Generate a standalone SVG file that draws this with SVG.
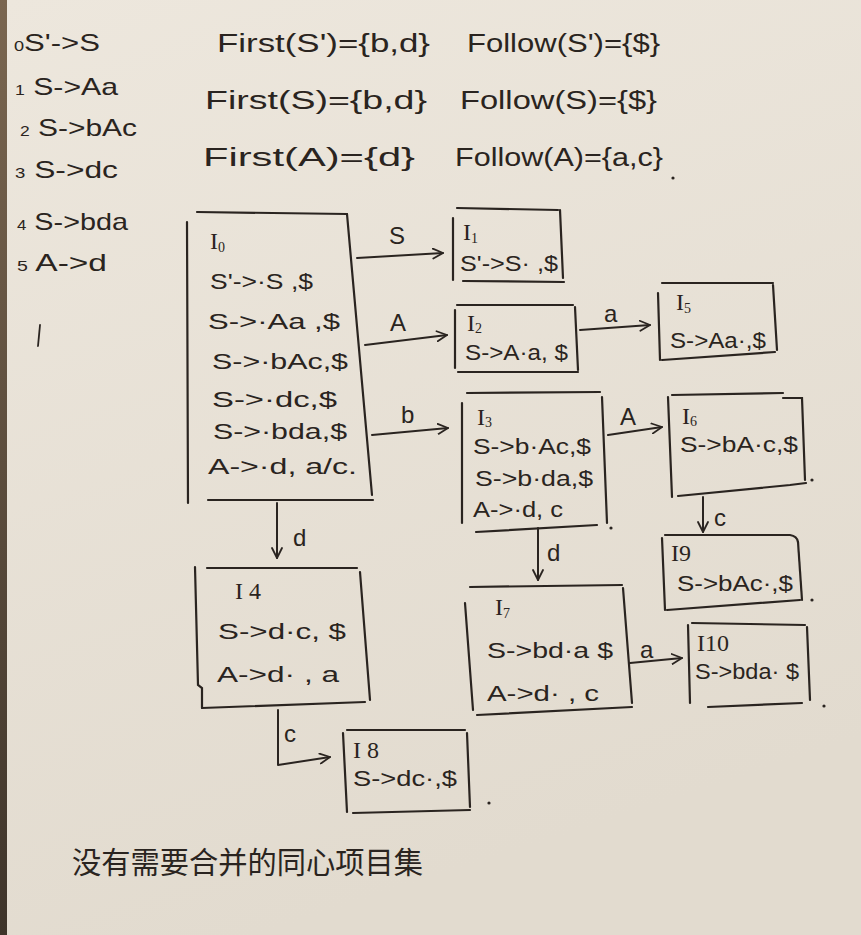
<svg xmlns="http://www.w3.org/2000/svg" width="861" height="935" viewBox="0 0 861 935">
<defs>
<linearGradient id="paper" x1="0" y1="0" x2="0.3" y2="1">
<stop offset="0" stop-color="#ede7dd"/>
<stop offset="1" stop-color="#e2dbcf"/>
</linearGradient>
<linearGradient id="edge" x1="0" y1="0" x2="0" y2="1">
<stop offset="0" stop-color="#7a6650"/>
<stop offset="1" stop-color="#3e342a"/>
</linearGradient>
<marker id="ah" viewBox="0 0 12 12" refX="11" refY="6" markerWidth="12" markerHeight="12" markerUnits="userSpaceOnUse" orient="auto">
<path d="M1,1 L11,6 L1,11" fill="none" stroke="#2a2420" stroke-width="1.8" stroke-linecap="round" stroke-linejoin="round"/>
</marker>
<style>
text{font-family:"Liberation Sans","Noto Sans CJK SC",sans-serif;fill:#2a2420;}
.hd{font-size:26px;}
.gr{font-size:24px;}
.it{font-size:22px;}
.lb{font-size:24px;}
.sub{font-size:14px;}
.nm{font-family:"Liberation Serif",serif;font-size:24px;}
.box path{fill:none;stroke:#2a2420;stroke-width:2.2;stroke-linecap:round;}
.edge path{fill:none;stroke:#2a2420;stroke-width:2;stroke-linecap:round;stroke-linejoin:round;marker-end:url(#ah);}
.dot{fill:#2a2420;}
</style>
</defs>
<rect x="0" y="0" width="861" height="935" fill="url(#paper)"/>
<rect x="0" y="0" width="7" height="935" fill="url(#edge)"/>

<g id="grammar">
<text class="gr" x="14" y="51" textLength="86" lengthAdjust="spacingAndGlyphs"><tspan class="sub">0</tspan>S'-&gt;S</text>
<text class="gr" x="15" y="95" textLength="103" lengthAdjust="spacingAndGlyphs"><tspan class="sub">1</tspan> S-&gt;Aa</text>
<text class="gr" x="20" y="136" textLength="117" lengthAdjust="spacingAndGlyphs"><tspan class="sub">2</tspan> S-&gt;bAc</text>
<text class="gr" x="15" y="178" textLength="103" lengthAdjust="spacingAndGlyphs"><tspan class="sub">3</tspan> S-&gt;dc</text>
<text class="gr" x="17" y="230" textLength="111" lengthAdjust="spacingAndGlyphs"><tspan class="sub">4</tspan> S-&gt;bda</text>
<text class="gr" x="17" y="271" textLength="90" lengthAdjust="spacingAndGlyphs"><tspan class="sub">5</tspan> A-&gt;d</text>
<path d="M40,325 L38,346" fill="none" stroke="#2a2420" stroke-width="1.8" stroke-linecap="round"/>
</g>

<g id="sets">
<text class="hd" x="217" y="52" textLength="213" lengthAdjust="spacingAndGlyphs">First(S')={b,d}</text>
<text class="hd" x="467" y="52" textLength="193" lengthAdjust="spacingAndGlyphs">Follow(S')={$}</text>
<text class="hd" x="205" y="109" textLength="222" lengthAdjust="spacingAndGlyphs">First(S)={b,d}</text>
<text class="hd" x="460" y="109" textLength="197" lengthAdjust="spacingAndGlyphs">Follow(S)={$}</text>
<text class="hd" x="203" y="166" textLength="212" lengthAdjust="spacingAndGlyphs">First(A)={d}</text>
<text class="hd" x="455" y="166" textLength="208" lengthAdjust="spacingAndGlyphs">Follow(A)={a,c}</text>
<circle class="dot" cx="673" cy="178" r="1.6"/>
</g>

<g id="I0" class="box">
<path d="M197,212 L347,214"/>
<path d="M347,214 L372,495"/>
<path d="M208,500 L373,500"/>
<path d="M187,222 L188,503"/>
<text class="nm" x="210" y="249">I<tspan class="sub" dy="3">0</tspan></text>
<text class="it" x="210" y="289" textLength="103" lengthAdjust="spacingAndGlyphs">S'-&gt;·S ,$</text>
<text class="it" x="208" y="329" textLength="132" lengthAdjust="spacingAndGlyphs">S-&gt;·Aa ,$</text>
<text class="it" x="212" y="369" textLength="136" lengthAdjust="spacingAndGlyphs">S-&gt;·bAc,$</text>
<text class="it" x="212" y="407" textLength="125" lengthAdjust="spacingAndGlyphs">S-&gt;·dc,$</text>
<text class="it" x="213" y="439" textLength="134" lengthAdjust="spacingAndGlyphs">S-&gt;·bda,$</text>
<text class="it" x="208" y="474" textLength="149" lengthAdjust="spacingAndGlyphs">A-&gt;·d, a/c.</text>
</g>

<g id="I1" class="box">
<path d="M457,208 L558,210"/>
<path d="M560,210 L563,278"/>
<path d="M463,281 L564,282"/>
<path d="M453,218 L453,280"/>
<text class="nm" x="463" y="240">I<tspan class="sub" dy="3">1</tspan></text>
<text class="it" x="460" y="271" textLength="98" lengthAdjust="spacingAndGlyphs">S'-&gt;S· ,$</text>
</g>

<g id="I2" class="box">
<path d="M457,305 L573,305"/>
<path d="M575,307 L578,370"/>
<path d="M458,372 L578,372"/>
<path d="M455,310 L455,368"/>
<text class="nm" x="467" y="331">I<tspan class="sub" dy="2">2</tspan></text>
<text class="it" x="465" y="360" textLength="103" lengthAdjust="spacingAndGlyphs">S-&gt;A·a, $</text>
</g>

<g id="I3" class="box">
<path d="M467,393 L600,392"/>
<path d="M602,397 L607,523"/>
<path d="M476,532 L597,525"/>
<path d="M462,403 L462,523"/>
<text class="nm" x="477" y="425">I<tspan class="sub" dy="2">3</tspan></text>
<text class="it" x="473" y="454" textLength="118" lengthAdjust="spacingAndGlyphs">S-&gt;b·Ac,$</text>
<text class="it" x="475" y="486" textLength="118" lengthAdjust="spacingAndGlyphs">S-&gt;b·da,$</text>
<text class="it" x="473" y="517" textLength="90" lengthAdjust="spacingAndGlyphs">A-&gt;·d, c</text>
<circle class="dot" cx="611" cy="528" r="1.6"/>
</g>

<g id="I4" class="box">
<path d="M207,568 L357,568"/>
<path d="M360,572 L370,700"/>
<path d="M202,708 L365,702"/>
<path d="M195,567 L198,685 L202,688 L202,708"/>
<text class="nm" x="235" y="599">I 4</text>
<text class="it" x="218" y="639" textLength="128" lengthAdjust="spacingAndGlyphs">S-&gt;d·c, $</text>
<text class="it" x="217" y="682" textLength="122" lengthAdjust="spacingAndGlyphs">A-&gt;d· , a</text>
</g>

<g id="I5" class="box">
<path d="M662,283 L773,283"/>
<path d="M773,285 L777,350"/>
<path d="M662,360 L775,352"/>
<path d="M658,293 L660,360"/>
<text class="nm" x="676" y="310">I<tspan class="sub" dy="3">5</tspan></text>
<text class="it" x="670" y="348" textLength="96" lengthAdjust="spacingAndGlyphs">S-&gt;Aa·,$</text>
</g>

<g id="I6" class="box">
<path d="M672,395 L783,393"/>
<path d="M783,398 L802,398 L805,480"/>
<path d="M678,496 L790,485 L806,483"/>
<path d="M668,397 L672,497"/>
<text class="nm" x="682" y="424">I<tspan class="sub" dy="2">6</tspan></text>
<text class="it" x="680" y="452" textLength="118" lengthAdjust="spacingAndGlyphs">S-&gt;bA·c,$</text>
<circle class="dot" cx="812" cy="480" r="1.6"/>
</g>

<g id="I7" class="box">
<path d="M470,587 L622,585"/>
<path d="M623,588 L632,703"/>
<path d="M477,715 L632,707"/>
<path d="M465,603 L473,710"/>
<text class="nm" x="495" y="615">I<tspan class="sub" dy="3">7</tspan></text>
<text class="it" x="487" y="658" textLength="126" lengthAdjust="spacingAndGlyphs">S-&gt;bd·a $</text>
<text class="it" x="487" y="701" textLength="112" lengthAdjust="spacingAndGlyphs">A-&gt;d· , c</text>
</g>

<g id="I8" class="box">
<path d="M347,730 L465,730"/>
<path d="M467,733 L470,807"/>
<path d="M353,813 L470,810"/>
<path d="M343,733 L347,812"/>
<text class="nm" x="353" y="758">I 8</text>
<text class="it" x="353" y="786" textLength="104" lengthAdjust="spacingAndGlyphs">S-&gt;dc·,$</text>
<circle class="dot" cx="489" cy="803" r="1.6"/>
</g>

<g id="I9" class="box">
<path d="M665,535 L790,535 Q797,536 798,542"/>
<path d="M798,542 L802,600"/>
<path d="M667,610 L800,600"/>
<path d="M662,538 L665,610"/>
<text class="nm" x="671" y="561">I9</text>
<text class="it" x="677" y="591" textLength="116" lengthAdjust="spacingAndGlyphs">S-&gt;bAc·,$</text>
<circle class="dot" cx="812" cy="600" r="1.6"/>
</g>

<g id="I10" class="box">
<path d="M692,623 L805,625"/>
<path d="M807,627 L810,700"/>
<path d="M708,707 L802,703"/>
<path d="M688,625 L690,703"/>
<text class="nm" x="697" y="651">I10</text>
<text class="it" x="695" y="679" textLength="104" lengthAdjust="spacingAndGlyphs">S-&gt;bda· $</text>
<circle class="dot" cx="824" cy="706" r="1.6"/>
</g>

<g id="connectors" class="edge">
<path d="M357,258 L443,253"/>
<path d="M365,345 L447,335"/>
<path d="M372,435 L448,428"/>
<path d="M580,330 L650,325"/>
<path d="M608,435 L662,427"/>
<path d="M703,497 L703,532"/>
<path d="M630,663 L682,658"/>
<path d="M277,503 L277,558"/>
<path d="M278,710 L278,765 L330,757"/>
<path d="M538,528 L538,580"/>
<text class="lb" x="389" y="244">S</text>
<text class="lb" x="390" y="331">A</text>
<text class="lb" x="401" y="423">b</text>
<text class="lb" x="604" y="322">a</text>
<text class="lb" x="620" y="425">A</text>
<text class="lb" x="714" y="526">c</text>
<text class="lb" x="640" y="658">a</text>
<text class="lb" x="293" y="546">d</text>
<text class="lb" x="284" y="742">c</text>
<text class="lb" x="547" y="561">d</text>
</g>

<g id="note">
<text x="72" y="873" font-size="30" textLength="351" lengthAdjust="spacingAndGlyphs" style="font-family:'Noto Sans CJK SC','Liberation Sans',sans-serif;">没有需要合并的同心项目集</text>
</g>
</svg>
